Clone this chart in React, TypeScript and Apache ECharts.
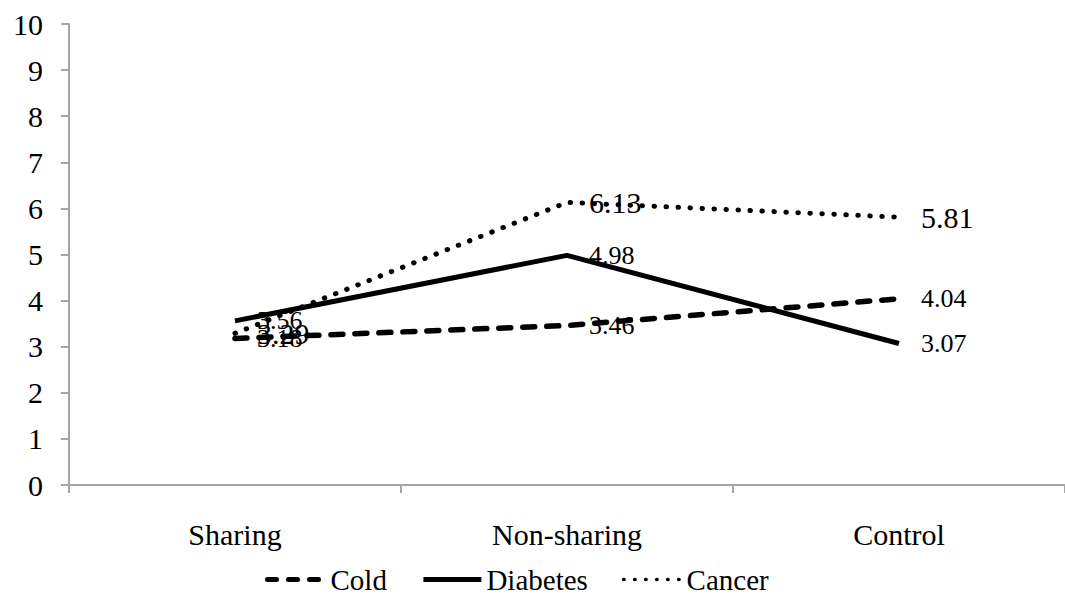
import React, { useEffect, useRef } from "react";
import * as echarts from "echarts";

const categories = ["Sharing", "Non-sharing", "Control"];
const coldValues = [3.18, 3.46, 4.04];
const diabetesValues = [3.56, 4.98, 3.07];
const cancerValues = [3.29, 6.13, 5.81];
const yTicks = [0, 1, 2, 3, 4, 5, 6, 7, 8, 9, 10];

const FONT = "Liberation Serif";

// Keep every SVG text of the chart in the serif face.
const chartCss = `.serif-chart text { font-family: "Liberation Serif", "Times New Roman", serif !important; }`;

export default function App() {
  const ref = useRef<HTMLDivElement>(null);

  useEffect(() => {
    document.body.style.margin = "0";
    if (!ref.current) return;
    const chart = echarts.init(ref.current, undefined, { renderer: "svg" });

    const defs = [
      {
        name: "Cold",
        data: coldValues,
        line: { width: 5.5, type: [12, 12], cap: "round" },
        legendLine: { width: 5, type: [9, 12], cap: "round" },
        size: 26,
      },
      {
        name: "Diabetes",
        data: diabetesValues,
        line: { width: 5, type: "solid", cap: "butt" },
        legendLine: { width: 5, type: "solid", cap: "butt" },
        size: 26,
      },
      {
        name: "Cancer",
        data: cancerValues,
        line: { width: 5, type: [0.5, 11.5], cap: "round" },
        legendLine: { width: 3.5, type: [0.5, 10.5], cap: "round" },
        size: 30,
      },
    ];

    const series = defs.map((s) => ({
      name: s.name,
      type: "line" as const,
      data: s.data,
      symbol: "circle",
      symbolSize: 0,
      itemStyle: { color: "#000" },
      lineStyle: { color: "#000", ...s.line },
      label: {
        show: true,
        position: "right" as const,
        distance: 22,
        color: "#000",
        fontFamily: FONT,
        fontSize: s.size,
        formatter: (p: any) => Number(p.value).toFixed(2),
      },
    }));

    chart.setOption({
      animation: false,
      backgroundColor: "#fff",
      textStyle: { fontFamily: FONT },
      grid: { left: 69, top: 24, width: 1002, height: 461 },
      xAxis: {
        type: "category",
        data: categories,
        boundaryGap: true,
        axisLine: { lineStyle: { color: "#a6a6a6", width: 2 } },
        axisTick: { show: true, length: 8, lineStyle: { color: "#a6a6a6", width: 2 } },
        axisLabel: { color: "#000", fontFamily: FONT, fontSize: 30, margin: 34 },
      },
      yAxis: {
        type: "value",
        min: yTicks[0],
        max: yTicks[yTicks.length - 1],
        interval: 1,
        splitLine: { show: false },
        axisLine: { show: true, lineStyle: { color: "#a6a6a6", width: 2 } },
        axisTick: { show: true, length: 8, lineStyle: { color: "#a6a6a6", width: 2 } },
        axisLabel: { color: "#000", fontFamily: FONT, fontSize: 30, margin: 26 },
      },
      legend: {
        bottom: 0,
        left: 260,
        itemWidth: 58,
        itemHeight: 14,
        itemGap: 34,
        itemStyle: { opacity: 0 },
        textStyle: { color: "#000", fontFamily: FONT, fontSize: 29 },
        data: defs.map((s) => ({
          name: s.name,
          lineStyle: { color: "#000", ...s.legendLine },
        })),
      },
      series,
    });

    return () => chart.dispose();
  }, []);

  return (
    <>
      <style>{chartCss}</style>
      <div ref={ref} className="serif-chart" style={{ width: 1065, height: 599 }} />
    </>
  );
}
